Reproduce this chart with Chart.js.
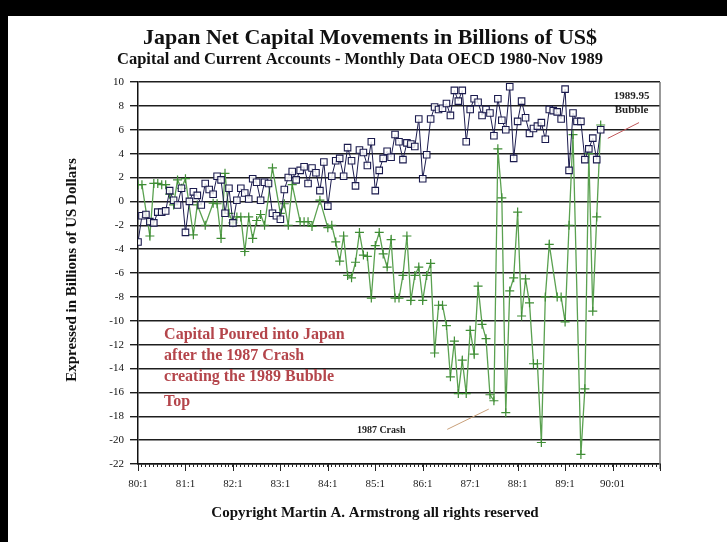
<!DOCTYPE html>
<html>
<head>
<meta charset="utf-8">
<script src="https://cdn.jsdelivr.net/npm/chart.js@4.4.0/dist/chart.umd.min.js"></script>
<style>
  html, body { margin: 0; padding: 0; background: #fff; }
  #frame { position: absolute; left: 0; top: 0; width: 719px; height: 526px;
           border-top: 16px solid #000; border-left: 8px solid #000; background: #fff; }
  canvas { display: block; }
</style>
</head>
<body>
<div id="frame"><canvas id="chart" width="719" height="526"></canvas></div>
<script>
/* ===== DATA (monthly, Jan 1980 onward) ===== */
const yearLabels = ["80:1", "81:1", "82:1", "83:1", "84:1", "85:1", "86:1", "87:1", "88:1", "89:1", "90:01"];

// blue squares
const currentAccount = [
  -3.4, -1.2, -1.1, -1.7, -1.8, -0.9, -0.9, -0.8, 0.9, 0.1,
  -0.3, 1.1, -2.6, 0.0, 0.8, 0.5, -0.3, 1.5, 1.0, 0.6,
  2.1, 1.8, -1.0, 1.1, -1.8, 0.1, 1.1, 0.7, 0.2, 1.9,
  1.6, 0.1, 1.6, 1.5, -1.0, -1.2, -1.5, 1.0, 2.0, 2.5,
  1.8, 2.6, 2.9, 1.5, 2.8, 2.4, 0.9, 3.3, -0.4, 2.1,
  3.4, 3.6, 2.1, 4.5, 3.4, 1.3, 4.3, 4.1, 3.0, 5.0,
  0.9, 2.6, 3.6, 4.2, 3.7, 5.6, 5.0, 3.5, 4.9, 4.8,
  4.6, 6.9, 1.9, 3.9, 6.9, 7.9, 7.7, 7.8, 8.2, 7.2,
  9.3, 8.4, 9.3, 5.0, 7.7, 8.6, 8.3, 7.2, 7.7, 7.4,
  5.5, 8.6, 6.8, 6.0, 9.6, 3.6, 6.7, 8.4, 7.0, 5.7,
  6.1, 6.3, 6.6, 5.2, 7.7, 7.6, 7.5, 6.9, 9.4, 2.6,
  7.4, 6.7, 6.7, 3.5, 4.4, 5.3, 3.5, 6.0
];

// green crosses (null = month not readable, line passes through)
const capitalAccount = [
  1.4, 1.4, null, -2.9, 1.5, 1.5, 1.4, 1.4, 0.6, -0.3,
  1.8, 1.1, 1.9, null, -2.8, -0.3, null, -2.0, null, -0.15,
  -0.2, -3.1, 2.35, -1.0, -1.8, -1.3, -1.3, -4.2, -1.3, -3.1,
  -1.6, -1.1, -2.0, null, 2.8, null, -1.0, -0.2, -2.0, 1.4,
  null, -1.7, -1.7, -1.7, -2.1, null, 0.1, null, -2.2, -2.0,
  -3.4, -5.0, -2.9, -6.2, -6.4, -5.1, -2.6, -4.5, -4.6, -8.1,
  -3.7, -2.6, -4.4, -5.5, -3.2, -8.1, -8.1, -6.2, -2.9, -8.3,
  -6.2, -5.5, -8.3, -6.2, -5.2, -12.7, -8.7, -8.7, -10.4, -14.7,
  -11.7, -16.1, -13.3, -16.1, -10.8, -12.8, -7.1, -10.3, -11.5, -16.2,
  -16.7, 4.4, 0.3, -17.7, -7.5, -6.4, -0.9, -9.6, -6.5, -8.5,
  -13.6, -13.6, -20.2, -8.0, -3.6, null, -8.0, -8.0, -10.1, -2.0,
  5.6, null, -21.2, -15.7, 4.0, -9.2, -1.3, 6.4
];

const toPoints = arr => arr.map((v, i) => ({ x: i, y: v }));

/* ===== TEXT + EXTRA LINES ===== */
const serif = '"Liberation Serif", "DejaVu Serif", serif';

const notes = {
  id: "notes",
  afterDraw(chart) {
    const { ctx, chartArea: a, scales: { x, y } } = chart;
    ctx.save();

    // right edge of the plot
    ctx.strokeStyle = "#777";
    ctx.lineWidth = 1.5;
    ctx.beginPath();
    ctx.moveTo(a.right, a.top);
    ctx.lineTo(a.right, a.bottom + 5);
    ctx.stroke();

    // longer ticks at each January
    ctx.strokeStyle = "#222";
    ctx.lineWidth = 1;
    ctx.beginPath();
    for (let m = 0; m <= 132; m += 12) {
      const px = Math.round(x.getPixelForValue(m)) + 0.5;
      ctx.moveTo(px, a.bottom);
      ctx.lineTo(px, a.bottom + 7);
    }
    ctx.stroke();

    // titles
    ctx.fillStyle = "#111";
    ctx.textAlign = "center";
    ctx.textBaseline = "middle";
    ctx.font = "bold 22px " + serif;
    ctx.fillText("Japan Net Capital Movements in Billions of US$", 362, 22);
    ctx.font = "bold 16.5px " + serif;
    ctx.fillText("Capital and Current Accounts - Monthly Data OECD 1980-Nov 1989", 352, 44);
    ctx.font = "bold 15px " + serif;
    ctx.fillText("Copyright Martin A. Armstrong all rights reserved", 367, 497);

    // y axis label
    ctx.save();
    ctx.translate(64, 254);
    ctx.rotate(-Math.PI / 2);
    ctx.fillText("Expressed in Billions of US Dollars", 0, 0);
    ctx.restore();

    // red note
    ctx.fillStyle = "#b4454b";
    ctx.textAlign = "left";
    ctx.font = "bold 16px " + serif;
    const nx = x.getPixelForValue(6.6);
    ctx.fillText("Capital Poured into Japan", nx, y.getPixelForValue(-11.2));
    ctx.fillText("after the 1987 Crash", nx, y.getPixelForValue(-12.95));
    ctx.fillText("creating the 1989 Bubble", nx, y.getPixelForValue(-14.7));
    ctx.fillText("Top", nx, y.getPixelForValue(-16.8));

    // 1987 crash
    ctx.fillStyle = "#222";
    ctx.textAlign = "center";
    ctx.font = "bold 10px " + serif;
    ctx.fillText("1987 Crash", x.getPixelForValue(61.5), y.getPixelForValue(-19.2));
    ctx.strokeStyle = "#c9a07a";
    ctx.lineWidth = 1;
    ctx.beginPath();
    ctx.moveTo(x.getPixelForValue(78.2), y.getPixelForValue(-19.1));
    ctx.lineTo(x.getPixelForValue(88.7), y.getPixelForValue(-17.4));
    ctx.stroke();

    // 1989.95 bubble
    ctx.font = "bold 11px " + serif;
    ctx.fillText("1989.95", x.getPixelForValue(124.8), y.getPixelForValue(8.83));
    ctx.fillText("Bubble", x.getPixelForValue(124.8), y.getPixelForValue(7.65));
    ctx.strokeStyle = "#c0585a";
    ctx.beginPath();
    ctx.moveTo(x.getPixelForValue(118.8), y.getPixelForValue(5.28));
    ctx.lineTo(x.getPixelForValue(126.7), y.getPixelForValue(6.6));
    ctx.stroke();

    ctx.restore();
  }
};

/* ===== CHART ===== */
Chart.defaults.font.family = serif;

new Chart(document.getElementById("chart"), {
  type: "line",
  data: {
    datasets: [
      {
        label: "Current Account",
        data: toPoints(currentAccount),
        borderColor: "#1b1b4e",
        borderWidth: 1,
        pointStyle: "rect",
        pointRadius: 4.6,
        pointBorderColor: "#1b1b4e",
        pointBackgroundColor: "rgba(255,255,255,0.85)",
        pointBorderWidth: 1.1,
        tension: 0
      },
      {
        label: "Capital Account",
        data: toPoints(capitalAccount),
        borderColor: "#5aa150",
        borderWidth: 1.3,
        pointStyle: "cross",
        pointRadius: 4.5,
        pointBorderColor: "#3f8d35",
        pointBorderWidth: 1.2,
        spanGaps: true,
        tension: 0
      }
    ]
  },
  options: {
    responsive: false,
    animation: false,
    layout: { padding: { top: 66, left: 10, right: 67, bottom: 38 } },
    plugins: { legend: { display: false }, tooltip: { enabled: false } },
    scales: {
      x: {
        type: "linear",
        min: 0,
        max: 132,
        afterFit: s => { s.height = 40; },
        ticks: {
          stepSize: 1,
          autoSkip: false,
          maxRotation: 0,
          padding: 11,
          color: "#222",
          font: { size: 11 },
          callback: v => (v % 12 === 0 ? yearLabels[v / 12] : "")
        },
        grid: { drawOnChartArea: false, tickLength: 3, color: "#222" },
        border: { color: "#111", width: 1.5 }
      },
      y: {
        min: -22,
        max: 10,
        afterFit: s => { s.width = 120; },
        ticks: { stepSize: 2, padding: 6, color: "#111", font: { size: 11 } },
        grid: { color: "#1e1e1e", lineWidth: 1.4, tickLength: 8 },
        border: { color: "#111", width: 1.5 }
      }
    }
  },
  plugins: [notes]
});
</script>
</body>
</html>
